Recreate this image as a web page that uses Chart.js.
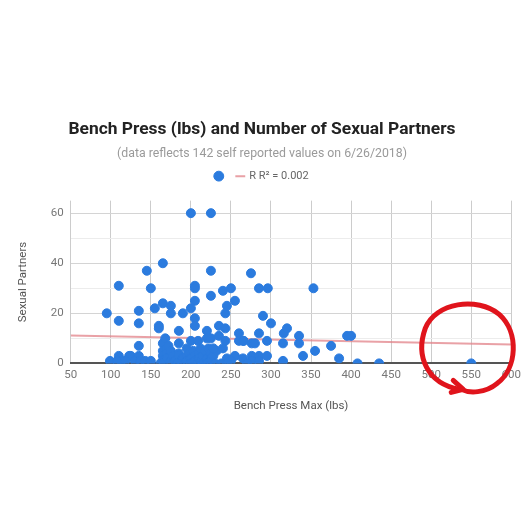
<!DOCTYPE html>
<html><head><meta charset="utf-8">
<script src="https://cdn.jsdelivr.net/npm/chart.js@4/dist/chart.umd.min.js"></script>
<style>html,body{margin:0;padding:0;background:#fff;}#wrap{width:526px;height:526px;}</style>
</head><body><div id="wrap"><canvas id="c" width="526" height="526"></canvas></div>
<script>
const benchPress = [
  95,110,110,99,110,113,108,123,125,135,135,135,135,130,137,143,145,150,155,160,160,118,150,
  165,165,165,165,165,165,168,170,170,170,172,175,175,175,175,178,180,185,185,185,185,188,190,190,183,162,
  200,225,225,225,200,205,205,205,205,205,200,209,220,220,225,195,195,195,198,200,200,203,205,205,208,210,210,212,213,215,215,218,220,220,222,225,225,225,228,230,232,228,
  235,235,240,243,243,243,240,245,250,255,245,260,260,255,265,250,265,275,285,296,290,300,285,276,280,266,295,276,285,295,276,285,270,238,245,
  316,320,335,335,315,340,315,353,355,375,385,395,400,408,435,550
];
const partners = [
  20,31,17,1,3,1,1,3,3,21,16,7,3,1,1,1,37,30,22,15,14,1,1,
  40,24,8,5,3,1,10,6,4,2,7,23,20,5,1,3,1,13,8,4,3,1,20,2,0,0,
  60,60,37,27,22,31,30,25,18,15,9,9,13,10,10,6,3,1,4,2,0,5,3,1,0,4,2,6,1,3,0,5,2,0,6,4,2,1,3,0,5,6,
  15,11,29,20,14,9,6,23,30,25,2,12,9,3,9,1,2,36,30,30,19,16,12,8,8,9,9,3,3,3,1,1,0,0,0,
  12,14,11,8,8,3,1,30,5,7,2,11,11,0,0,0
];
const trendX = [50, 600];
const trendY = [11.1, 7.5];
const xTickValues = [50,100,150,200,250,300,350,400,450,500,550,600];
const yTickLabels = [0,20,40,60];
const titleText = 'Bench Press (lbs) and Number of Sexual Partners';
const subtitleText = '(data reflects 142 self reported values on 6/26/2018)';
const trendLabel = 'R R\u00B2 = 0.002';

const scatterPoints = benchPress.map((b,i)=>({x:b, y:partners[i]}));
const trendPoints = trendX.map((t,i)=>({x:t, y:trendY[i]}));

const legendGap = {
  id:'legendGap',
  afterInit(chart){
    const lg = chart.legend;
    if (!lg) return;
    const orig = lg.fit.bind(lg);
    lg.fit = function(){ orig(); this.height += 9; };
  }
};

const redCircle = {
  id:'redCircle',
  afterDraw(chart){
    const {ctx, scales:{x,y}} = chart;
    const cx = x.getPixelForValue(545), cy = y.getPixelForValue(6.8);
    ctx.save();
    ctx.strokeStyle = '#e0141c';
    ctx.lineWidth = 5;
    ctx.lineCap = 'round';
    ctx.lineJoin = 'round';
    ctx.beginPath();
    ctx.moveTo(cx-8, cy+43);
    ctx.bezierCurveTo(cx-40, cy+37, cx-52, cy+10, cx-42, cy-18);
    ctx.bezierCurveTo(cx-32, cy-44, cx+10, cy-50, cx+32, cy-32);
    ctx.bezierCurveTo(cx+52, cy-14, cx+50, cy+22, cx+30, cy+37);
    ctx.bezierCurveTo(cx+18, cy+47, cx+2, cy+47, cx-6, cy+43);
    ctx.stroke();
    ctx.beginPath();
    ctx.moveTo(cx-14, cy+34);
    ctx.lineTo(cx-4, cy+43);
    ctx.lineTo(cx-16, cy+46);
    ctx.stroke();
    ctx.restore();
  }
};

new Chart(document.getElementById('c'), {
  type:'scatter',
  data:{datasets:[
    {label:'', data:scatterPoints, backgroundColor:'#2b7bde', borderColor:'#2b7bde', pointRadius:4.5, pointHoverRadius:4.5, pointStyle:'circle', order:1},
    {type:'line', label:trendLabel, data:trendPoints, borderColor:'rgba(226,130,136,0.75)', backgroundColor:'rgba(226,130,136,0.75)', borderWidth:2, pointRadius:0, pointStyle:'line', order:2}
  ]},
  options:{
    responsive:false, animation:false,
    layout:{padding:{top:119, left:12, right:14, bottom:109}},
    plugins:{
      title:{display:true, text:titleText, color:'#222', font:{family:'Roboto', size:17.4, weight:'bold'}, padding:{top:0, bottom:5}},
      subtitle:{display:true, text:subtitleText, color:'#9a9a9a', font:{family:'Roboto', size:12.3}, padding:{top:2, bottom:0}},
      legend:{display:true, labels:{usePointStyle:true, boxWidth:7, boxHeight:7, color:'#666', font:{family:'Roboto', size:11}, padding:9}},
      tooltip:{enabled:false}
    },
    scales:{
      x:{type:'linear', min:50, max:600,
        afterBuildTicks(ax){ ax.ticks = xTickValues.map(v=>({value:v})); },
        ticks:{color:'#777', font:{family:'Roboto', size:11.5}, padding:5, maxRotation:0, autoSkip:false},
        grid:{color:'#cccccc', drawTicks:false},
        border:{display:true, color:'#555', width:2},
        title:{display:true, text:'Bench Press Max (lbs)', color:'#555', font:{family:'Roboto', size:11.5}, padding:{top:12}}
      },
      y:{type:'linear', min:0, max:65,
        ticks:{stepSize:5, color:'#777', font:{family:'Roboto', size:11.5}, padding:7,
          callback:(v)=> yTickLabels.includes(v) ? String(v) : ''},
        grid:{color:(c)=> (c.tick && c.tick.value % 20 === 0) ? '#d4d4d4' : '#ececec', drawTicks:false},
        border:{display:false},
        title:{display:true, text:'Sexual Partners', color:'#555', font:{family:'Roboto', size:11.5}, padding:{bottom:14}}
      }
    }
  },
  plugins:[legendGap, redCircle]
});
</script></body></html>
